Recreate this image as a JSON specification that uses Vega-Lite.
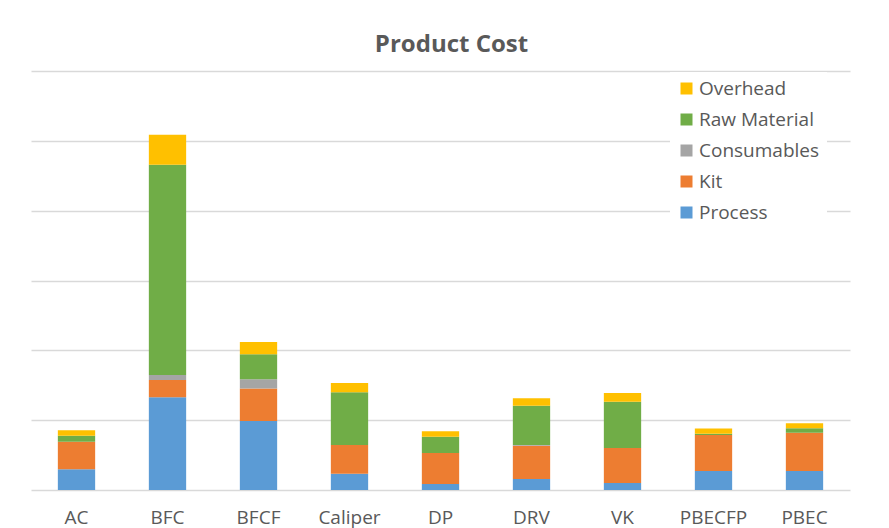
{
  "$schema": "https://vega.github.io/schema/vega-lite/v6.json",
  "width": 819,
  "height": 419,
  "padding": {"left": 31, "top": 71, "right": 39, "bottom": 38},
  "autosize": {"type": "none"},
  "background": "white",
  "title": {
    "text": "Product Cost",
    "font": "Open Sans",
    "fontSize": 24,
    "fontWeight": "bold",
    "color": "#595959",
    "anchor": "middle",
    "dx": 11,
    "offset": 14
  },
  "data": {
    "values": [
      {"p": "AC", "t": "Process", "v": 0.296},
      {"p": "AC", "t": "Kit", "v": 0.396},
      {"p": "AC", "t": "Consumables", "v": 0},
      {"p": "AC", "t": "Raw Material", "v": 0.086},
      {"p": "AC", "t": "Overhead", "v": 0.077},
      {"p": "BFC", "t": "Process", "v": 1.328},
      {"p": "BFC", "t": "Kit", "v": 0.248},
      {"p": "BFC", "t": "Consumables", "v": 0.072},
      {"p": "BFC", "t": "Raw Material", "v": 3.009},
      {"p": "BFC", "t": "Overhead", "v": 0.43},
      {"p": "BFCF", "t": "Process", "v": 0.989},
      {"p": "BFCF", "t": "Kit", "v": 0.463},
      {"p": "BFCF", "t": "Consumables", "v": 0.134},
      {"p": "BFCF", "t": "Raw Material", "v": 0.358},
      {"p": "BFCF", "t": "Overhead", "v": 0.177},
      {"p": "Caliper", "t": "Process", "v": 0.234},
      {"p": "Caliper", "t": "Kit", "v": 0.411},
      {"p": "Caliper", "t": "Consumables", "v": 0},
      {"p": "Caliper", "t": "Raw Material", "v": 0.755},
      {"p": "Caliper", "t": "Overhead", "v": 0.134},
      {"p": "DP", "t": "Process", "v": 0.086},
      {"p": "DP", "t": "Kit", "v": 0.444},
      {"p": "DP", "t": "Consumables", "v": 0},
      {"p": "DP", "t": "Raw Material", "v": 0.234},
      {"p": "DP", "t": "Overhead", "v": 0.077},
      {"p": "DRV", "t": "Process", "v": 0.158},
      {"p": "DRV", "t": "Kit", "v": 0.477},
      {"p": "DRV", "t": "Consumables", "v": 0.01},
      {"p": "DRV", "t": "Raw Material", "v": 0.563},
      {"p": "DRV", "t": "Overhead", "v": 0.106},
      {"p": "VK", "t": "Process", "v": 0.1},
      {"p": "VK", "t": "Kit", "v": 0.501},
      {"p": "VK", "t": "Consumables", "v": 0},
      {"p": "VK", "t": "Raw Material", "v": 0.663},
      {"p": "VK", "t": "Overhead", "v": 0.125},
      {"p": "PBECFP", "t": "Process", "v": 0.272},
      {"p": "PBECFP", "t": "Kit", "v": 0.516},
      {"p": "PBECFP", "t": "Consumables", "v": 0},
      {"p": "PBECFP", "t": "Raw Material", "v": 0.019},
      {"p": "PBECFP", "t": "Overhead", "v": 0.072},
      {"p": "PBEC", "t": "Process", "v": 0.272},
      {"p": "PBEC", "t": "Kit", "v": 0.549},
      {"p": "PBEC", "t": "Consumables", "v": 0},
      {"p": "PBEC", "t": "Raw Material", "v": 0.063},
      {"p": "PBEC", "t": "Overhead", "v": 0.072}
    ]
  },
  "transform": [
    {"calculate": "indexof(['Process','Kit','Consumables','Raw Material','Overhead'], datum.t)", "as": "o"}
  ],
  "mark": {"type": "bar"},
  "encoding": {
    "x": {
      "field": "p",
      "type": "nominal",
      "sort": null,
      "scale": {"paddingInner": 0.59, "paddingOuter": 0.295},
      "axis": {
        "title": null,
        "labelAngle": 0,
        "domain": false,
        "ticks": false,
        "labelFont": "Open Sans",
        "labelFontSize": 19,
        "labelColor": "#595959",
        "labelPadding": 18
      }
    },
    "y": {
      "field": "v",
      "type": "quantitative",
      "stack": "zero",
      "scale": {"domain": [0, 6], "nice": false},
      "axis": {
        "title": null,
        "labels": false,
        "ticks": false,
        "domain": false,
        "values": [0, 1, 2, 3, 4, 5, 6],
        "grid": true,
        "gridColor": "#d9d9d9",
        "gridWidth": 1.5
      }
    },
    "color": {
      "field": "t",
      "type": "nominal",
      "scale": {
        "domain": ["Overhead", "Raw Material", "Consumables", "Kit", "Process"],
        "range": ["#FFC000", "#70AD47", "#A5A5A5", "#ED7D31", "#5B9BD5"]
      },
      "legend": {
        "title": null,
        "orient": "none",
        "legendX": 639,
        "legendY": 1,
        "fillColor": "white",
        "padding": 7,
        "symbolType": "square",
        "symbolSize": 144,
        "symbolStrokeWidth": 0,
        "labelFont": "Open Sans",
        "labelFontSize": 19,
        "labelColor": "#595959",
        "rowPadding": 11,
        "labelOffset": 3,
        "labelLimit": 300
      }
    },
    "order": {"field": "o", "type": "quantitative"}
  },
  "config": {
    "view": {"stroke": null}
  }
}
